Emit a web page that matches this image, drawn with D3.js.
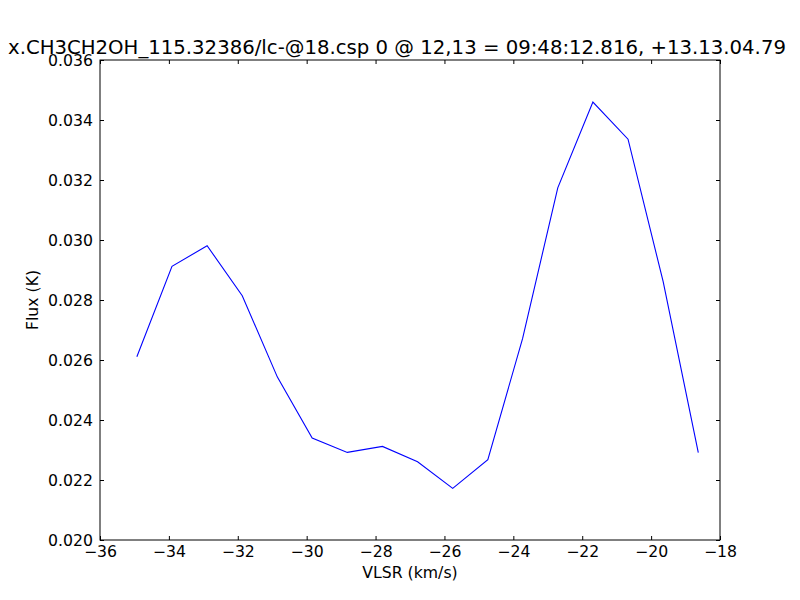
<!DOCTYPE html>
<html><head><meta charset="utf-8">
<script src="https://cdn.jsdelivr.net/npm/d3@7"></script>
<style>body{margin:0;background:#fff}svg{display:block}text{font-family:"DejaVu Sans",sans-serif}</style>
</head><body><svg id="c" width="800" height="600"></svg>
<script>
const velocity = [-34.93, -33.91, -32.89, -31.87, -30.85, -29.84, -28.82, -27.80, -26.78, -25.76, -24.74, -23.73, -22.71, -21.69, -20.67, -19.65, -18.63];
const flux = [0.02611, 0.02912, 0.02981, 0.02814, 0.02543, 0.02340, 0.02292, 0.02312, 0.02261, 0.02172, 0.02268, 0.02672, 0.03174, 0.03460, 0.03336, 0.02861, 0.02291];
const xTicks = [-36, -34, -32, -30, -28, -26, -24, -22, -20, -18];
const yTicks = [0.020, 0.022, 0.024, 0.026, 0.028, 0.030, 0.032, 0.034, 0.036];
const titleText = "x.CH3CH2OH_115.32386/lc-@18.csp 0 @ 12,13 = 09:48:12.816, +13.13.04.79";

const L = 100, R = 720, T = 60, B = 540;
const svg = d3.select("#c");
const x = d3.scaleLinear().domain([-36, -18]).range([L, R]);
const y = d3.scaleLinear().domain([0.020, 0.036]).range([B, T]);
const fmtX = v => (v < 0 ? "\u2212" + Math.abs(v) : "" + v);
const fmtY = d3.format(".3f");

const line = d3.line().x((d, i) => x(velocity[i])).y(d => y(d));
svg.append("path").datum(flux).attr("d", line).attr("fill", "none").attr("stroke", "#0000ff").attr("stroke-width", 1.1);

function styleAxis(g) {
  g.select(".domain").remove();
  g.selectAll("line").attr("stroke", "#000").attr("stroke-width", 1);
  g.selectAll("text").attr("font-size", "15.7px").attr("fill", "#000").attr("font-family", "DejaVu Sans, sans-serif");
}
// bottom
svg.append("g").attr("transform", `translate(0,${B})`)
  .call(d3.axisBottom(x).tickValues(xTicks).tickFormat(fmtX).tickSizeInner(-4).tickSizeOuter(0).tickPadding(6))
  .call(styleAxis);
// top
svg.append("g").attr("transform", `translate(0,${T})`)
  .call(d3.axisTop(x).tickValues(xTicks).tickFormat("").tickSizeInner(-4).tickSizeOuter(0))
  .call(styleAxis);
// left
svg.append("g").attr("transform", `translate(${L},0)`)
  .call(d3.axisLeft(y).tickValues(yTicks).tickFormat(fmtY).tickSizeInner(-4).tickSizeOuter(0).tickPadding(7))
  .call(styleAxis);
// right
svg.append("g").attr("transform", `translate(${R},0)`)
  .call(d3.axisRight(y).tickValues(yTicks).tickFormat("").tickSizeInner(-4).tickSizeOuter(0))
  .call(styleAxis);

svg.append("rect").attr("x", L).attr("y", T).attr("width", R - L).attr("height", B - T)
  .attr("fill", "none").attr("stroke", "#000").attr("stroke-width", 1);

svg.append("text").attr("x", 397).attr("y", 54).attr("text-anchor", "middle").attr("font-size", "19.7px").text(titleText);
svg.append("text").attr("x", 410).attr("y", 578).attr("text-anchor", "middle").attr("font-size", "15.7px").text("VLSR (km/s)");
svg.append("text").attr("transform", "translate(38,300) rotate(-90)").attr("text-anchor", "middle").attr("font-size", "15.7px").text("Flux (K)");
</script></body></html>
